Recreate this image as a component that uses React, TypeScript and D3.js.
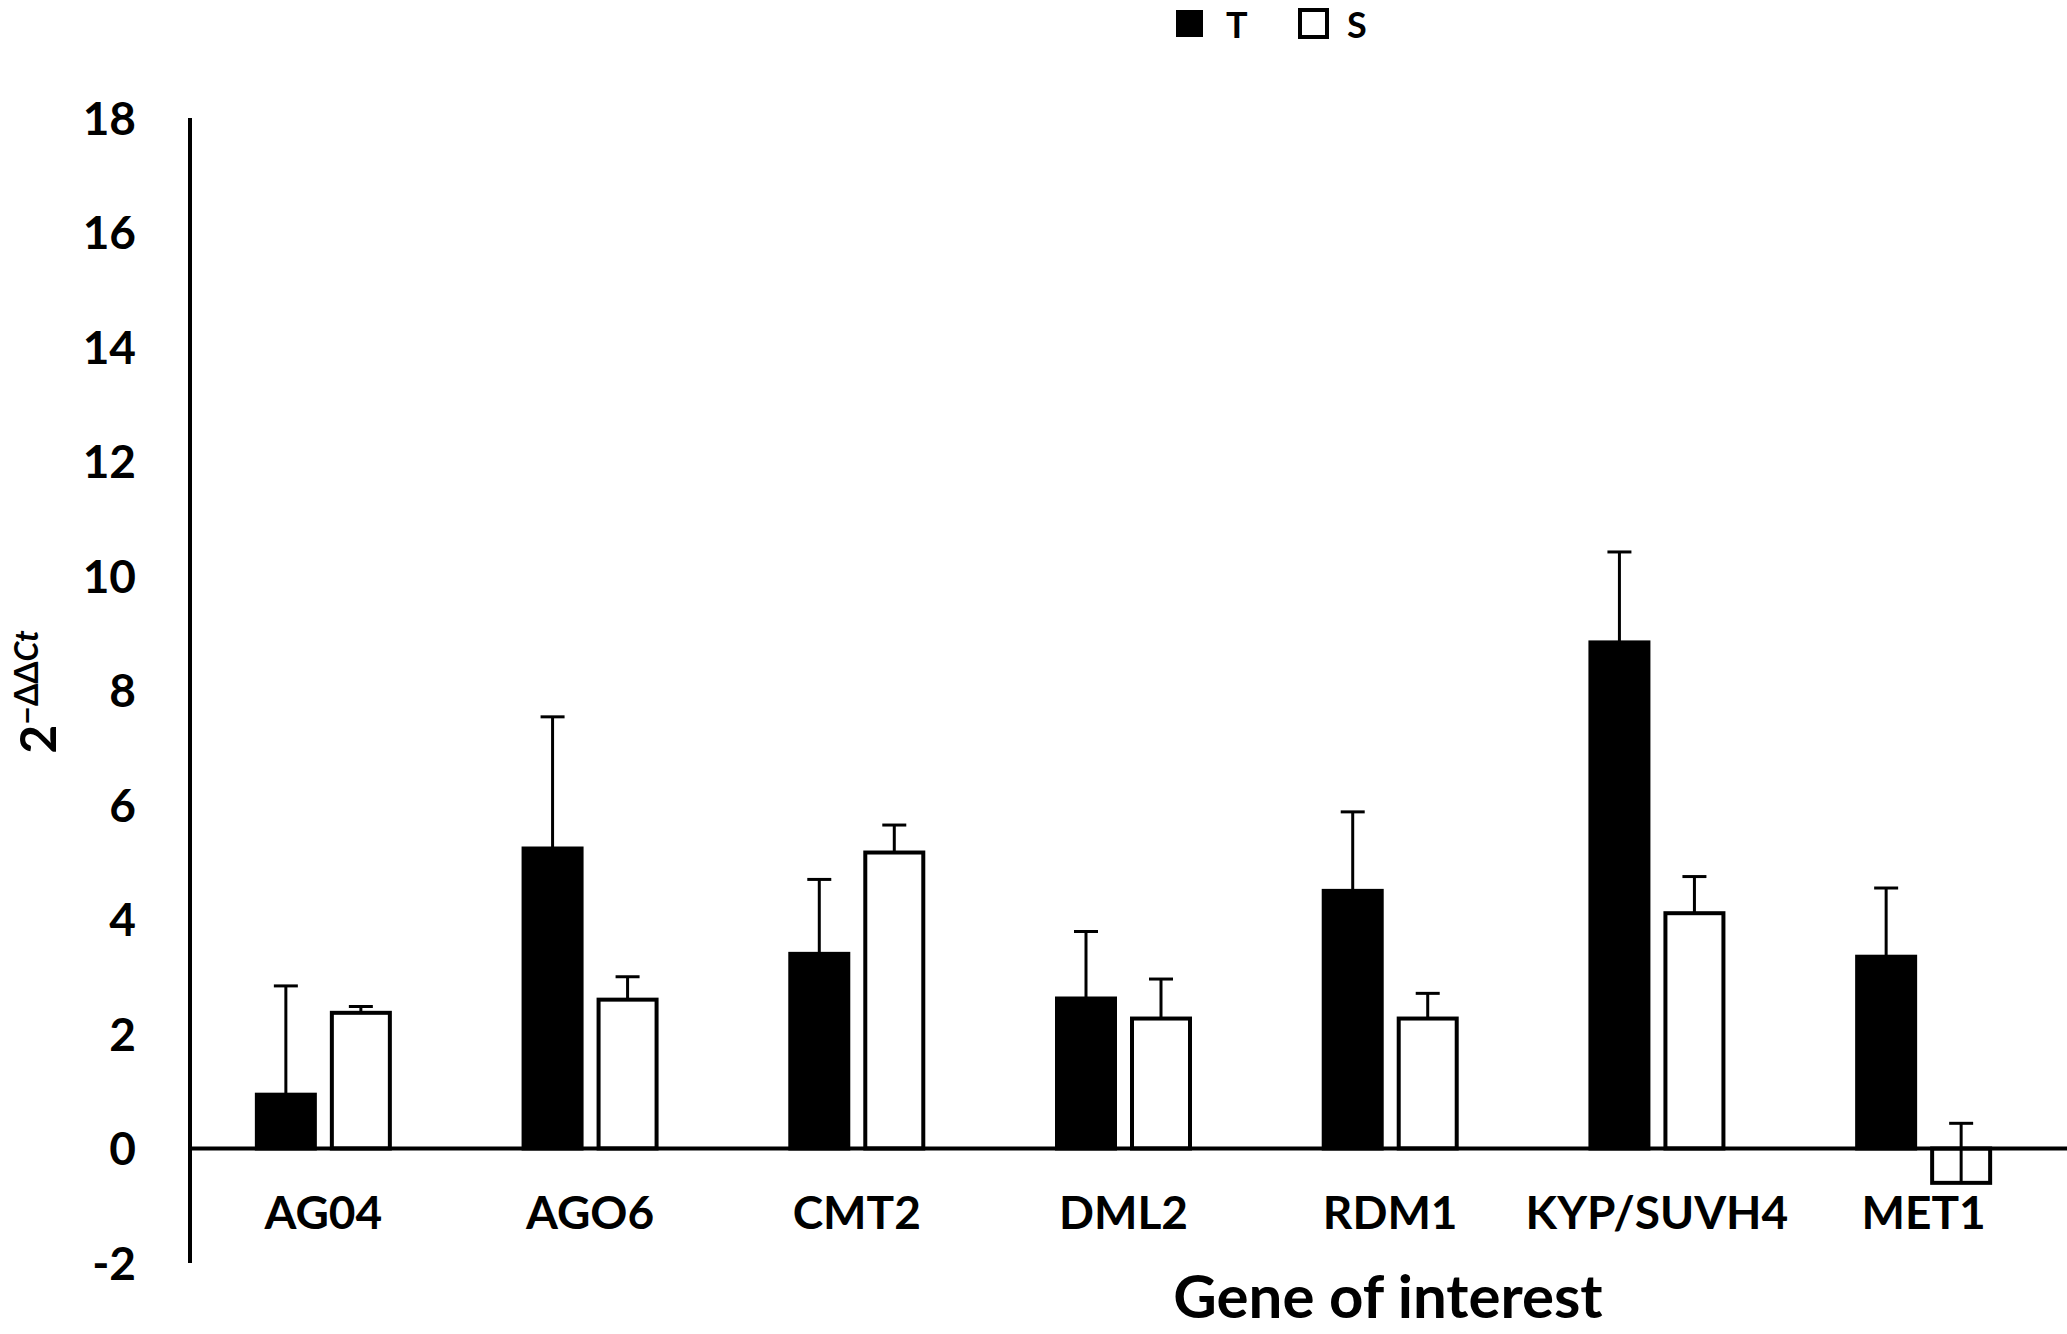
import { useEffect, useRef } from "react";
import * as d3 from "d3";

const categories = ["AG04", "AGO6", "CMT2", "DML2", "RDM1", "KYP/SUVH4", "MET1"];
const tValues = [0.94, 5.24, 3.4, 2.62, 4.5, 8.84, 3.35];
const tErrors = [1.9, 2.3, 1.3, 1.17, 1.38, 1.58, 1.2];
const sValues = [2.37, 2.6, 5.17, 2.27, 2.27, 4.11, -0.6];
const sErrors = [0.11, 0.4, 0.48, 0.69, 0.44, 0.64, 1.04];
const yTicks = [-2, 0, 2, 4, 6, 8, 10, 12, 14, 16, 18];

const W = 2067;
const H = 1334;
const FONT = "Lato, 'Open Sans', sans-serif";

function Chart() {
    const ref = useRef<SVGSVGElement | null>(null);

    useEffect(() => {
        if (!ref.current) return;
        const svg = d3.select(ref.current);
        svg.selectAll("*").remove();

        const x0 = 190;
        const x = d3.scaleBand().domain(categories).range([x0, 2057]);
        const y = d3.scaleLinear().domain([-2, 18]).range([1263, 118]);

        const barW = 58;
        const off = 37.5;

        // y tick labels
        svg.append("g")
            .selectAll("text")
            .data(yTicks)
            .join("text")
            .attr("x", 136)
            .attr("y", (d) => y(d))
            .attr("dy", "0.36em")
            .attr("text-anchor", "end")
            .attr("font-family", FONT)
            .attr("font-weight", 700)
            .attr("font-size", 46)
            .text((d) => d);

        const series = [
            { vals: tValues, errs: tErrors, dx: -off, fill: "#000" },
            { vals: sValues, errs: sErrors, dx: off, fill: "#fff" },
        ];

        series.forEach((s) => {
            const g = svg.append("g");
            g.selectAll("rect")
                .data(s.vals)
                .join("rect")
                .attr("x", (_, i) => x(categories[i])! + x.bandwidth() / 2 + s.dx - barW / 2)
                .attr("y", (d) => y(Math.max(0, d)))
                .attr("width", barW)
                .attr("height", (d) => Math.abs(y(d) - y(0)))
                .attr("fill", s.fill)
                .attr("stroke", "#000")
                .attr("stroke-width", 4);

            // plus error bars
            const eg = svg.append("g").attr("stroke", "#000").attr("stroke-width", 3);
            s.vals.forEach((v, i) => {
                const cx = x(categories[i])! + x.bandwidth() / 2 + s.dx;
                const top = y(v + s.errs[i]);
                eg.append("line").attr("x1", cx).attr("x2", cx).attr("y1", y(v)).attr("y2", top);
                eg.append("line").attr("x1", cx - 12).attr("x2", cx + 12).attr("y1", top).attr("y2", top);
            });
        });

        // axes
        svg.append("line")
            .attr("x1", x0).attr("x2", W)
            .attr("y1", y(0)).attr("y2", y(0))
            .attr("stroke", "#000").attr("stroke-width", 4);
        svg.append("line")
            .attr("x1", x0).attr("x2", x0)
            .attr("y1", y(18)).attr("y2", y(-2))
            .attr("stroke", "#000").attr("stroke-width", 4);

        // category labels
        svg.append("g")
            .selectAll("text")
            .data(categories)
            .join("text")
            .attr("x", (d) => x(d)! + x.bandwidth() / 2)
            .attr("y", 1229)
            .attr("text-anchor", "middle")
            .attr("font-family", FONT)
            .attr("font-weight", 700)
            .attr("font-size", 46)
            .text((d) => d);

        // x title
        svg.append("text")
            .attr("x", 1388)
            .attr("y", 1318)
            .attr("text-anchor", "middle")
            .attr("font-family", FONT)
            .attr("font-weight", 700)
            .attr("font-size", 60)
            .text("Gene of interest");

        // y title
        const yt = svg.append("text")
            .attr("transform", "translate(56,692) rotate(-90)")
            .attr("text-anchor", "middle")
            .attr("font-family", FONT)
            .attr("font-weight", 700)
            .attr("font-size", 50);
        yt.append("tspan").text("2");
        yt.append("tspan").attr("font-size", 32).attr("dy", -18).text("−ΔΔ");
        yt.append("tspan").attr("font-size", 32).attr("font-style", "italic").text("Ct");

        // legend
        const lg = svg.append("g").attr("font-family", FONT).attr("font-weight", 700).attr("font-size", 36);
        lg.append("rect").attr("x", 1176).attr("y", 10).attr("width", 27).attr("height", 27).attr("fill", "#000");
        lg.append("text").attr("x", 1226).attr("y", 38).text("T");
        lg.append("rect").attr("x", 1300).attr("y", 10).attr("width", 27).attr("height", 27)
            .attr("fill", "#fff").attr("stroke", "#000").attr("stroke-width", 4);
        lg.append("text").attr("x", 1347).attr("y", 38).text("S");
    }, []);

    return <svg ref={ref} width={W} height={H} style={{ position: "absolute", left: 0, top: 0, background: "#fff" }} />;
}

export default function App() {
    useEffect(() => {
        document.body.style.margin = "0";
        document.body.style.overflow = "hidden";
    }, []);
    return (
        <div>
            <Chart />
        </div>
    );
}
